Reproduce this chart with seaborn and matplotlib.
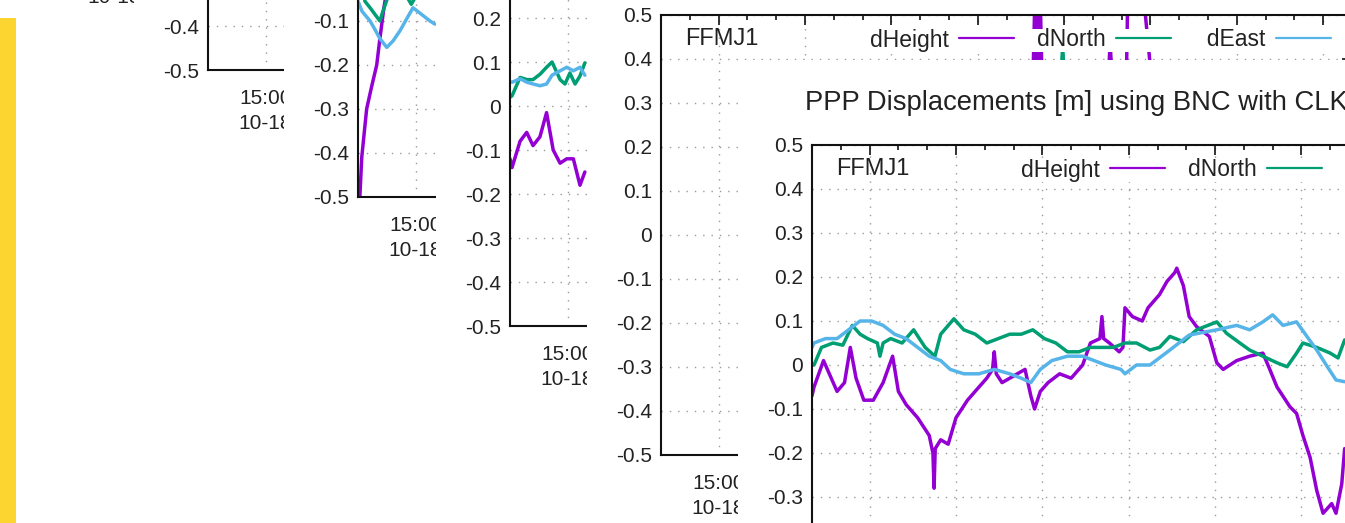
import numpy as np
import pandas as pd
import matplotlib
matplotlib.use("Agg")
import matplotlib.pyplot as plt
import seaborn as sns
from matplotlib.patches import Rectangle
from matplotlib.lines import Line2D

sns.set_theme(style="white")
plt.rcParams['font.family'] = ['Liberation Sans', 'DejaVu Sans']

# ---------------- text / categories ----------------
TITLE = "PPP Displacements [m] using BNC with CLK93"
STATION = "FFMJ1"
SERIES = ["dHeight", "dNorth", "dEast"]
LEGEND_LABELS = ["dHeight", "dNorth", "  dEast"]
COLORS = {"dHeight": "#9400D3", "dNorth": "#009E73", "dEast": "#56B4E9"}

Y_TICKS = [-0.5, -0.4, -0.3, -0.2, -0.1, 0.0, 0.1, 0.2, 0.3, 0.4, 0.5]
Y_TICK_LABELS = ["-0.5", "-0.4", "-0.3", "-0.2", "-0.1", "0", "0.1", "0.2", "0.3", "0.4", "0.5"]
X_TICKS_H = [15, 18, 21, 24, 27, 30, 33, 36]
X_TICK_LABELS = ["15:00\n10-18", "18:00\n10-18", "21:00\n10-18", "00:00\n10-19",
                 "03:00\n10-19", "06:00\n10-19", "09:00\n10-19", "12:00\n10-19"]
X_START, X_END = 13, 37

# ---------------- data (hours since 00:00 of 10-18) ----------------
# Panel B (partly hidden window)
B_T_HEIGHT = [13.05, 13.13, 13.30, 13.47, 13.65, 13.76, 13.90, 14.0]
B_V_HEIGHT = [-0.52, -0.41, -0.30, -0.25, -0.20, -0.14, -0.07, -0.03]
B_T_NORTH = [13.2, 13.24, 13.42, 13.59, 13.76, 13.87, 14.04, 14.7, 14.85, 15.0]
B_V_NORTH = [-0.04, -0.055, -0.07, -0.085, -0.10, -0.077, -0.045, -0.045, -0.062, -0.045]
B_T_EAST = [13.0, 13.14, 13.42, 13.62, 13.76, 14.0, 14.22, 14.46, 14.70, 14.91, 15.15, 15.5, 15.67]
B_V_EAST = [-0.055, -0.078, -0.10, -0.123, -0.14, -0.16, -0.145, -0.122, -0.094, -0.07, -0.082, -0.10, -0.107]

# Panel C
C_T_HEIGHT = [13.0, 13.07, 13.35, 13.58, 13.8, 14.04, 14.27, 14.5, 14.74, 14.97, 15.2, 15.43, 15.6]
C_V_HEIGHT = [-0.12, -0.14, -0.08, -0.06, -0.09, -0.07, -0.015, -0.10, -0.13, -0.12, -0.12, -0.18, -0.15]
C_T_NORTH = [13.0, 13.07, 13.17, 13.35, 13.59, 13.8, 14.04, 14.27, 14.46, 14.74, 14.91, 15.08, 15.26, 15.43, 15.6]
C_V_NORTH = [0.02, 0.023, 0.038, 0.065, 0.06, 0.06, 0.072, 0.088, 0.10, 0.06, 0.05, 0.075, 0.05, 0.068, 0.098]
C_T_EAST = [13.0, 13.07, 13.35, 13.59, 13.8, 14.04, 14.27, 14.46, 14.74, 14.97, 15.2, 15.43, 15.6]
C_V_EAST = [0.055, 0.054, 0.062, 0.054, 0.05, 0.046, 0.05, 0.07, 0.08, 0.088, 0.08, 0.088, 0.07]

# Panel D (only spikes above 0.4 are visible)
D_T_HEIGHT = [25.9, 26.0, 26.08, 26.16, 26.25, 28.5, 28.6, 28.7, 29.15, 29.22, 29.75, 30.0, 30.1]
D_V_HEIGHT = [0.30, 0.58, 0.32, 0.58, 0.30, 0.30, 0.44, 0.30, 0.30, 0.58, 0.55, 0.38, 0.30]
D_T_NORTH = [26.85, 26.95, 27.05]
D_V_NORTH = [0.30, 0.43, 0.30]

# Panel E (front window)
E_T_HEIGHT = [13.0, 13.07, 13.4, 13.87, 14.13, 14.33, 14.53, 14.8, 15.13, 15.47, 15.8, 16.0, 16.27,
              16.67, 17.07, 17.2, 17.24, 17.28, 17.47, 17.73, 18.0, 18.4, 18.8, 19.07, 19.27, 19.33,
              19.4, 19.6, 19.87, 20.13, 20.4, 20.6, 20.73, 20.93, 21.2, 21.6, 22.0, 22.4, 22.67, 23.0,
              23.07, 23.13, 23.33, 23.67, 23.8, 23.87, 24.13, 24.47, 24.67, 25.07, 25.33, 25.6, 25.67,
              25.9, 26.1, 26.36, 26.8, 27.06, 27.28, 27.75, 28.2, 28.66, 28.9, 29.15, 29.6, 29.83,
              30.05, 30.3, 30.53, 30.75, 31.05, 31.2, 31.4, 31.5]
E_V_HEIGHT = [-0.07, -0.05, 0.01, -0.06, -0.04, 0.04, -0.03, -0.08, -0.08, -0.04, 0.02, -0.06, -0.09,
              -0.12, -0.16, -0.20, -0.28, -0.19, -0.17, -0.18, -0.12, -0.08, -0.05, -0.03, -0.01, 0.03,
              -0.02, -0.04, -0.03, -0.02, -0.01, -0.07, -0.10, -0.06, -0.04, -0.02, -0.03, 0.00, 0.05, 0.06,
              0.11, 0.06, 0.05, 0.03, 0.04, 0.13, 0.11, 0.10, 0.13, 0.16, 0.19, 0.21, 0.22,
              0.18, 0.11, 0.087, 0.065, 0.005, -0.01, 0.01, 0.02, 0.027, -0.01, -0.05, -0.095, -0.11,
              -0.16, -0.21, -0.285, -0.337, -0.315, -0.337, -0.27, -0.19]
E_T_NORTH = [13.0, 13.07, 13.33, 13.73, 14.07, 14.4, 14.67, 14.93, 15.27, 15.36, 15.47, 15.73, 16.13,
             16.53, 16.93, 17.27, 17.47, 17.93, 18.27, 18.67, 19.07, 19.47, 19.87, 20.27, 20.67, 21.07,
             21.47, 21.87, 22.27, 22.67, 23.07, 23.47, 23.87, 24.27, 24.74, 25.07, 25.43, 25.9, 26.36,
             27.06, 27.4, 27.86, 28.2, 28.66, 29.15, 29.5, 29.83, 30.05, 30.53, 31.0, 31.27, 31.5]
E_V_NORTH = [0.0, 0.0, 0.04, 0.05, 0.045, 0.09, 0.07, 0.06, 0.05, 0.02, 0.05, 0.06, 0.05,
             0.08, 0.04, 0.02, 0.07, 0.105, 0.08, 0.07, 0.05, 0.06, 0.07, 0.07, 0.08, 0.06,
             0.05, 0.03, 0.03, 0.04, 0.04, 0.04, 0.05, 0.05, 0.034, 0.04, 0.065, 0.053, 0.08,
             0.098, 0.072, 0.05, 0.034, 0.02, 0.005, -0.004, 0.027, 0.05, 0.04, 0.027, 0.016, 0.057]
E_T_EAST = [13.0, 13.07, 13.47, 13.87, 14.27, 14.67, 15.07, 15.47, 15.87, 16.27, 16.67, 17.07, 17.47,
            17.8, 18.27, 18.8, 19.33, 19.87, 20.27, 20.6, 20.93, 21.33, 21.87, 22.4, 22.8, 23.2,
            23.73, 23.87, 24.27, 24.74, 25.43, 26.1, 27.06, 27.75, 28.2, 28.66, 29.0, 29.36, 29.83,
            30.2, 30.53, 30.9, 31.2, 31.5]
E_V_EAST = [0.04, 0.05, 0.06, 0.06, 0.08, 0.10, 0.10, 0.09, 0.07, 0.06, 0.04, 0.02, 0.01,
            -0.01, -0.02, -0.02, -0.01, -0.02, -0.03, -0.04, -0.01, 0.01, 0.02, 0.02, 0.01, 0.0,
            -0.01, -0.02, 0.0, 0.0, 0.034, 0.068, 0.08, 0.09, 0.08, 0.098, 0.114, 0.09, 0.098,
            0.064, 0.034, -0.004, -0.034, -0.038]


def frame(parts):
    dfs = []
    for name, t, v in parts:
        d = pd.DataFrame({"hours": t, "value": v})
        d["series"] = name
        dfs.append(d)
    return pd.concat(dfs, ignore_index=True) if dfs else None


PANEL_DATA = [
    None,
    None,
    frame([("dHeight", B_T_HEIGHT, B_V_HEIGHT), ("dNorth", B_T_NORTH, B_V_NORTH), ("dEast", B_T_EAST, B_V_EAST)]),
    frame([("dHeight", C_T_HEIGHT, C_V_HEIGHT), ("dNorth", C_T_NORTH, C_V_NORTH), ("dEast", C_T_EAST, C_V_EAST)]),
    frame([("dHeight", D_T_HEIGHT, D_V_HEIGHT), ("dNorth", D_T_NORTH, D_V_NORTH)]),
    frame([("dHeight", E_T_HEIGHT, E_V_HEIGHT), ("dNorth", E_T_NORTH, E_V_NORTH), ("dEast", E_T_EAST, E_V_EAST)]),
]

# ---------------- layout (pixels) ----------------
W, H = 1345, 523
PLOT_W, PLOT_H = 691, 440
# (left spine x, bottom y) of each cascaded window's plot area
PANEL_POS = [(57, -56), (208, 70), (358, 197), (510, 326), (661, 455), (812, 585)]


def fig_rect(left, top, width, height):
    return [left / W, 1 - (top + height) / H, width / W, height / H]


fig = plt.figure(figsize=(W / 100, H / 100), dpi=100)
fig.patch.set_facecolor("white")

# yellow strip at the very left
fig.add_artist(Rectangle((0, 0), 16 / W, 1, transform=fig.transFigure,
                         facecolor="#FDD530", edgecolor="none", zorder=-1))

for i, ((sx, by), df) in enumerate(zip(PANEL_POS, PANEL_DATA)):
    top = by - PLOT_H
    # window background
    wl, wt = sx - 74, top - 85
    ww, wh = PLOT_W + 160, PLOT_H + 85 + 74
    r = fig_rect(wl, wt, ww, wh)
    fig.add_artist(Rectangle((r[0], r[1]), r[2], r[3], transform=fig.transFigure,
                             facecolor="white", edgecolor="none", zorder=2 * i))

    ax = fig.add_axes(fig_rect(sx, top, PLOT_W, PLOT_H))
    ax.set_zorder(2 * i + 1)
    ax.set_facecolor("white")

    if df is not None:
        sns.lineplot(data=df, x="hours", y="value", hue="series", palette=COLORS,
                     estimator=None, sort=False, linewidth=2.5, legend=False, ax=ax)

    ax.set_xlim(X_START, X_END)
    ax.set_ylim(-0.5, 0.5)
    ax.set_xlabel("")
    ax.set_ylabel("")
    ax.set_xticks(X_TICKS_H, X_TICK_LABELS)
    ax.set_xticks(list(range(X_START, X_END + 1)), minor=True)
    ax.set_yticks(Y_TICKS, Y_TICK_LABELS)
    ax.set_yticks(list(np.arange(-0.5, 0.51, 0.05)), minor=True)

    ax.tick_params(which="both", direction="in", top=True, right=True, colors="#111111",
                   width=1.2, labelcolor="#222222")
    ax.tick_params(which="major", length=7)
    ax.tick_params(which="minor", length=3.6)
    ax.tick_params(axis="y", which="major", labelsize=15, pad=6.5)
    ax.tick_params(axis="x", which="major", labelsize=15, pad=14)
    for lab in ax.get_xticklabels():
        lab.set_linespacing(1.38)

    ax.grid(True, which="major", color="#9a9a9a", linestyle=(0, (1, 5)), linewidth=1.0)
    for s in ax.spines.values():
        s.set_color("#111111")
        s.set_linewidth(1.5)

    ax.text(24 / PLOT_W, 1 - 24 / PLOT_H, STATION, transform=ax.transAxes,
            ha="left", va="center", fontsize=17, color="#222222")
    ax.text(-7 / PLOT_W, 1 + 42 / PLOT_H, TITLE, transform=ax.transAxes,
            ha="left", va="center", fontsize=19.7, color="#222222", clip_on=False)

    handles = [Line2D([], [], color=COLORS[s], linewidth=1.6) for s in SERIES]
    leg = ax.legend(handles, LEGEND_LABELS, loc="center right",
                    bbox_to_anchor=(670 / PLOT_W, 1 - 25 / PLOT_H), ncol=3,
                    markerfirst=False, frameon=True, fancybox=False, fontsize=16.5,
                    handlelength=2.4, handletextpad=0.45, columnspacing=1.0,
                    borderpad=0.0, borderaxespad=0, framealpha=1)
    leg.get_frame().set_facecolor("white")
    leg.get_frame().set_edgecolor("none")
    for t in leg.get_texts():
        t.set_color("#222222")

fig.savefig("out.png", dpi=100, facecolor="white")
